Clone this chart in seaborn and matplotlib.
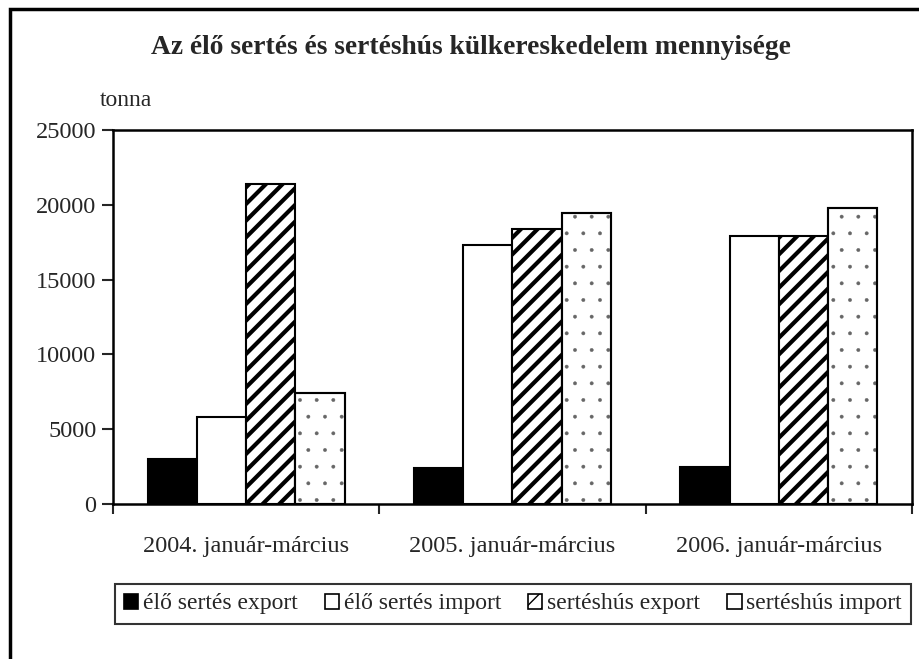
import pandas as pd
import matplotlib
matplotlib.use("Agg")
import matplotlib.pyplot as plt
import matplotlib.patches as mpatches
import seaborn as sns

# data (tonna)
periods = ['2004. január-március', '2005. január-március', '2006. január-március']
series = ['élő sertés export', 'élő sertés import', 'sertéshús export', 'sertéshús import']
elo_export = [3000, 2400, 2500]
elo_import = [5800, 17300, 17900]
hus_export = [21400, 18400, 17900]
hus_import = [7400, 19450, 19800]

rows = []
for name, vals in zip(series, [elo_export, elo_import, hus_export, hus_import]):
    for p, v in zip(periods, vals):
        rows.append({'period': p, 'series': name, 'value': v})
df = pd.DataFrame(rows)

sns.set_style('white')
plt.rcParams['font.family'] = ['Liberation Serif', 'DejaVu Serif']
plt.rcParams['hatch.linewidth'] = 1.0

fig = plt.figure(figsize=(9.2, 6.59), dpi=100)
ax = fig.add_axes([113/920, 1-504/659, (912-113)/920, (504-130)/659])

face = ['black', 'white', 'white', 'white']
hatches = [None, None, '//', '.']
sns.barplot(data=df, x='period', y='value', hue='series', order=periods,
            hue_order=series, palette=face, width=0.74, ax=ax,
            edgecolor='black', linewidth=1.5, saturation=1, legend=False)

for cont, h in zip(ax.containers, hatches):
    for bar in cont:
        if h == '//':
            bar.set_hatch(h)
            if hasattr(bar, 'set_hatch_linewidth'):
                bar.set_hatch_linewidth(3.0)
        elif h == '.':
            # grey dots, black outline drawn on top
            bar.set_hatch('.')
            bar.set_edgecolor('#666666')
            if hasattr(bar, 'set_hatch_linewidth'):
                bar.set_hatch_linewidth(0.3)
            ax.add_patch(mpatches.Rectangle(bar.get_xy(), bar.get_width(), bar.get_height(),
                                            fill=False, edgecolor='black', linewidth=1.5))

ax.set_ylim(0, 25000)
ax.set_xlim(-0.5, 2.5)
ax.set_yticks(range(0, 25001, 5000))
ax.set_xlabel('')
ax.set_ylabel('')
for s in ax.spines.values():
    s.set_visible(True)
    s.set_color('black')
    s.set_linewidth(1.8)
ax.tick_params(axis='y', direction='out', length=8, width=1.5, left=True, labelsize=17.5, pad=4)
ax.tick_params(axis='x', which='major', length=0, labelsize=17.5, pad=23)
ax.set_xticks([-0.5, 0.5, 1.5, 2.5], minor=True)
ax.tick_params(axis='x', which='minor', direction='out', length=7, width=1.5, bottom=True)

fig.text(471/920, 1-47/659, 'Az élő sertés és sertéshús külkereskedelem mennyisége',
         ha='center', va='center', fontsize=19.8, fontweight='bold')
fig.text(100/920, 1-101/659, 'tonna', ha='left', va='center', fontsize=17)

handles = []
for c, h in zip(face, hatches):
    p = mpatches.Patch(facecolor=c, edgecolor='black', linewidth=1.2, hatch=h if h != '.' else None)
    handles.append(p)
leg = fig.legend(handles, series, loc='center', bbox_to_anchor=(513/920, 1-604/659),
                 ncol=4, fontsize=17, frameon=True, fancybox=False,
                 handlelength=0.6, handleheight=0.6, handletextpad=0.2,
                 columnspacing=1.15, borderpad=0.4, borderaxespad=0)
leg.get_frame().set_edgecolor('black')
leg.get_frame().set_linewidth(1.5)

# outer chart frame (cut off at the right and bottom)
fig.patches.append(mpatches.Rectangle((10/920, -0.05), 1.0, 1-9/659+0.05,
                                      transform=fig.transFigure, fill=False,
                                      edgecolor='black', linewidth=2.5))

fig.savefig('out.png', dpi=100)
